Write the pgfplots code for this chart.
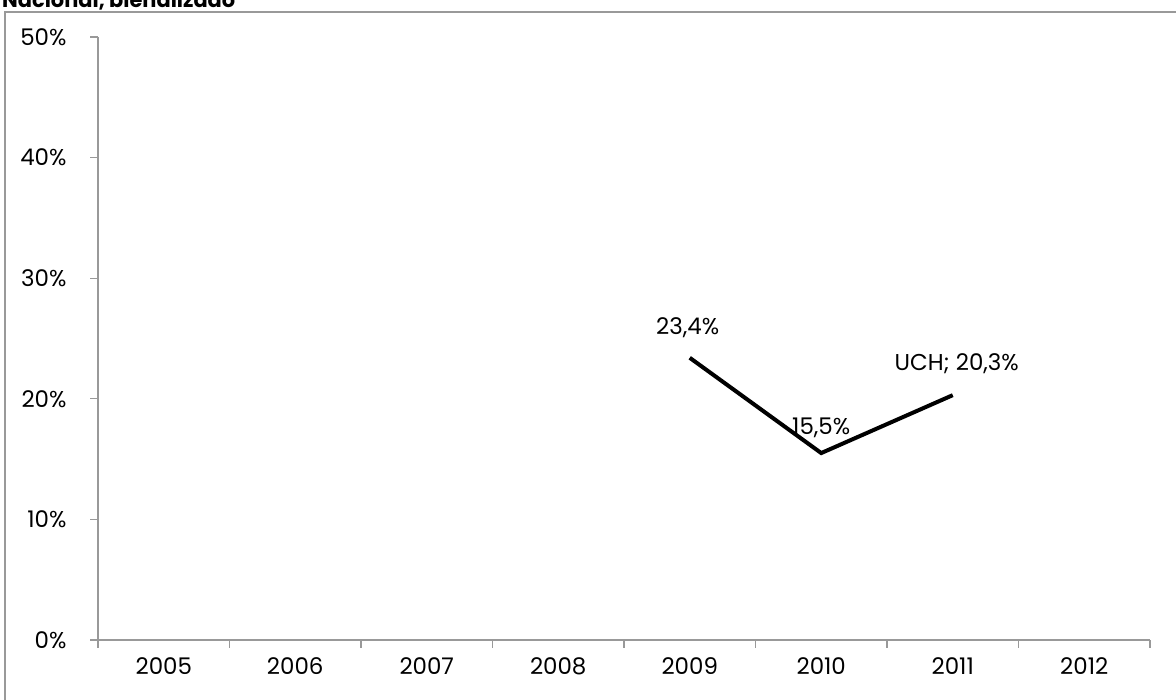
\documentclass[border=0pt]{standalone}
\usepackage{pgfplots}
\pgfplotsset{compat=1.18}
\usepackage{fontspec}
\setmainfont{Poppins}
\begin{document}
\begin{tikzpicture}[x=1bp,y=1bp]
\path[use as bounding box] (0,0) rectangle (1176,700);
\begin{scope}
\clip (0,0) rectangle (1176,700);
\node[anchor=base west,inner sep=0pt,font=\bfseries\fontsize{21}{24}\selectfont] at (2,692) {Nacional, bienalizado};
\draw[gray!80,line width=1.2bp] (5,-10) -- (5,688) -- (1190,688);
\end{scope}
\begin{axis}[
  at={(98bp,60bp)}, anchor=south west,
  scale only axis, width=1052bp, height=603bp,
  xmin=-0.5, xmax=7.5, ymin=0, ymax=50,
  axis x line=bottom, axis y line=left,
  axis line style={gray!80,line width=1.2bp,-},
  xtick={0,...,7},
  xticklabels={2005,2006,2007,2008,2009,2010,2011,2012},
  major x tick style={draw=none},
  minor xtick={-0.5,0.5,...,7.5},
  minor x tick style={gray!80,line width=1.2bp},
  ytick={0,10,20,30,40,50},
  yticklabel={\pgfmathprintnumber{\tick}\%},
  major y tick style={gray!80,line width=1.2bp},
  tick align=outside,
  major tick length=8bp, minor tick length=8bp,
  tick label style={font=\fontsize{23}{26}\selectfont},
  xticklabel style={yshift=-6bp},
  yticklabel style={anchor=east,xshift=-20bp},
  /pgf/number format/assume math mode=true,
  clip=false,
]
\addplot[black,line width=4bp] coordinates {(4,23.4) (5,15.5) (6,20.3)};
\node[font=\fontsize{23}{26}\selectfont,anchor=south] at (axis cs:4,23.4) [yshift=16bp,xshift=-2bp] {23,4\%};
\node[font=\fontsize{23}{26}\selectfont,anchor=south] at (axis cs:5,15.5) [yshift=12bp] {15,5\%};
\node[font=\fontsize{23}{26}\selectfont,anchor=south] at (axis cs:6,20.3) [yshift=18bp,xshift=4bp] {UCH; 20,3\%};
\end{axis}
\end{tikzpicture}
\end{document}
